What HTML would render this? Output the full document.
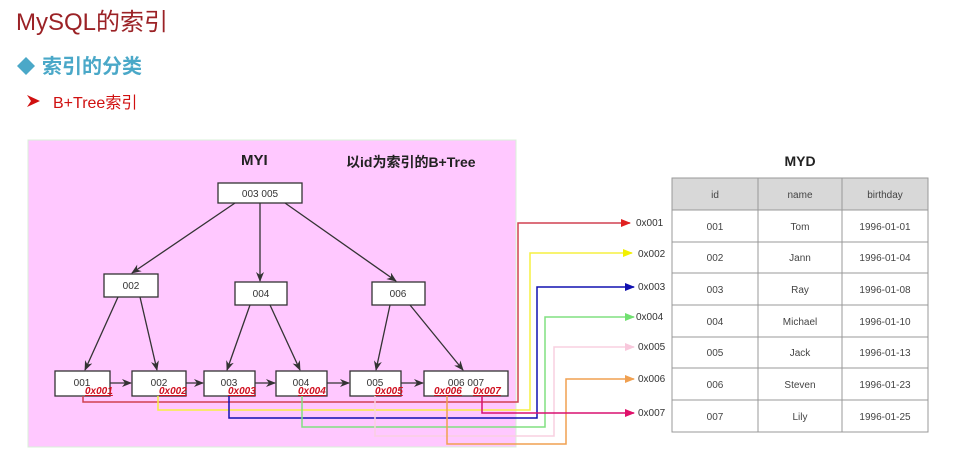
<!DOCTYPE html>
<html><head><meta charset="utf-8"><style>
body{margin:0;background:#fff;width:965px;height:465px;overflow:hidden}
svg text{font-family:"Liberation Sans","Noto Sans CJK SC",sans-serif}
</style></head><body>
<svg width="965" height="465" xmlns="http://www.w3.org/2000/svg">
<defs>
<marker id="ak" markerWidth="10" markerHeight="8" refX="9" refY="4" orient="auto" markerUnits="userSpaceOnUse"><path d="M0,0L10,4L0,8L3,4z" fill="#333"/></marker>
<marker id="ar" markerWidth="10" markerHeight="8" refX="9" refY="4" orient="auto" markerUnits="userSpaceOnUse"><path d="M0,0L10,4L0,8z" fill="#e02020"/></marker>
<marker id="ay" markerWidth="10" markerHeight="8" refX="9" refY="4" orient="auto" markerUnits="userSpaceOnUse"><path d="M0,0L10,4L0,8z" fill="#f2f000"/></marker>
<marker id="ab" markerWidth="10" markerHeight="8" refX="9" refY="4" orient="auto" markerUnits="userSpaceOnUse"><path d="M0,0L10,4L0,8z" fill="#1010b0"/></marker>
<marker id="ag" markerWidth="10" markerHeight="8" refX="9" refY="4" orient="auto" markerUnits="userSpaceOnUse"><path d="M0,0L10,4L0,8z" fill="#70e070"/></marker>
<marker id="ap" markerWidth="10" markerHeight="8" refX="9" refY="4" orient="auto" markerUnits="userSpaceOnUse"><path d="M0,0L10,4L0,8z" fill="#f8c8dc"/></marker>
<marker id="ao" markerWidth="10" markerHeight="8" refX="9" refY="4" orient="auto" markerUnits="userSpaceOnUse"><path d="M0,0L10,4L0,8z" fill="#f0a050"/></marker>
<marker id="am" markerWidth="10" markerHeight="8" refX="9" refY="4" orient="auto" markerUnits="userSpaceOnUse"><path d="M0,0L10,4L0,8z" fill="#e0106a"/></marker>
</defs>
<text x="16" y="30" font-size="24" fill="#9b2226">MySQL的索引</text>
<path d="M26,57L35,66L26,75L17,66z" fill="#4aa8c8"/>
<text x="42" y="73" font-size="20" font-weight="bold" fill="#4aa8c8">索引的分类</text>
<path d="M27,95L40,101L27,107L31,101z" fill="#d01010"/>
<text x="53" y="108" font-size="16" fill="#d01010">B+Tree索引</text>

<rect x="28" y="140" width="488" height="307" fill="#ffc8ff" stroke="#d8f0d8"/>
<text x="241" y="165" font-size="15" font-weight="bold" fill="#222">MYI</text>
<text x="346" y="167" font-size="14" font-weight="bold" fill="#222">以id为索引的B+Tree</text>

<g stroke="#333" stroke-width="1.3" marker-end="url(#ak)" fill="none">
<line x1="235" y1="203" x2="132" y2="273"/>
<line x1="260" y1="203" x2="260" y2="281"/>
<line x1="285" y1="203" x2="396" y2="281"/>
<line x1="118" y1="297" x2="85" y2="370"/>
<line x1="140" y1="297" x2="157" y2="370"/>
<line x1="250" y1="305" x2="227" y2="370"/>
<line x1="270" y1="305" x2="300" y2="370"/>
<line x1="390" y1="305" x2="376" y2="370"/>
<line x1="410" y1="305" x2="463" y2="370"/>
<line x1="110" y1="383" x2="131" y2="383"/>
<line x1="186" y1="383" x2="203" y2="383"/>
<line x1="255" y1="383" x2="275" y2="383"/>
<line x1="327" y1="383" x2="349" y2="383"/>
<line x1="401" y1="383" x2="423" y2="383"/>
</g>
<g fill="#fff" stroke="#333" stroke-width="1.3">
<rect x="218" y="183" width="84" height="20"/>
<rect x="104" y="274" width="54" height="23"/>
<rect x="235" y="282" width="52" height="23"/>
<rect x="372" y="282" width="53" height="23"/>
<rect x="55" y="371" width="55" height="25"/>
<rect x="132" y="371" width="54" height="25"/>
<rect x="204" y="371" width="51" height="25"/>
<rect x="276" y="371" width="51" height="25"/>
<rect x="350" y="371" width="51" height="25"/>
<rect x="424" y="371" width="84" height="25"/>
</g>
<g font-size="10" fill="#333" text-anchor="middle">
<text x="260" y="197">003  005</text>
<text x="131" y="289">002</text>
<text x="261" y="297">004</text>
<text x="398" y="297">006</text>
<text x="82" y="386">001</text>
<text x="159" y="386">002</text>
<text x="229" y="386">003</text>
<text x="301" y="386">004</text>
<text x="375" y="386">005</text>
<text x="466" y="386">006  007</text>
</g>
<g font-size="10" font-weight="bold" font-style="italic" fill="#d01020" text-decoration="underline">
<text x="85" y="394">0x001</text>
<text x="159" y="394">0x002</text>
<text x="228" y="394">0x003</text>
<text x="298" y="394">0x004</text>
<text x="375" y="394">0x005</text>
<text x="434" y="394">0x006</text>
<text x="473" y="394">0x007</text>
</g>
<g fill="none" stroke-width="1.5">
<path d="M83,396V402H518V223H630" stroke="#d04050" marker-end="url(#ar)"/>
<path d="M158,396V410H530V253H632" stroke="#f5f040" marker-end="url(#ay)"/>
<path d="M229,396V418H537V287H634" stroke="#1010b0" marker-end="url(#ab)"/>
<path d="M302,396V427H545V317H634" stroke="#80e080" marker-end="url(#ag)"/>
<path d="M375,396V436H554V347H634" stroke="#f8d0e0" marker-end="url(#ap)"/>
<path d="M447,396V444H566V379H634" stroke="#f0a050" marker-end="url(#ao)"/>
<path d="M482,396V413H634" stroke="#d81070" marker-end="url(#am)"/>
</g>
<g font-size="10" fill="#333">
<text x="636" y="226">0x001</text>
<text x="638" y="257">0x002</text>
<text x="638" y="290">0x003</text>
<text x="636" y="320">0x004</text>
<text x="638" y="350">0x005</text>
<text x="638" y="382">0x006</text>
<text x="638" y="416">0x007</text>
</g>

<text x="800" y="166" font-size="14" font-weight="bold" fill="#222" text-anchor="middle">MYD</text>
<rect x="672" y="178" width="256" height="32" fill="#d8d8d8"/>
<g stroke="#999" stroke-width="1" fill="none">
<rect x="672" y="178" width="256" height="254"/>
<line x1="758" y1="178" x2="758" y2="432"/>
<line x1="842" y1="178" x2="842" y2="432"/>
<line x1="672" y1="210" x2="928" y2="210"/>
<line x1="672" y1="242" x2="928" y2="242"/>
<line x1="672" y1="273" x2="928" y2="273"/>
<line x1="672" y1="305" x2="928" y2="305"/>
<line x1="672" y1="337" x2="928" y2="337"/>
<line x1="672" y1="368" x2="928" y2="368"/>
<line x1="672" y1="400" x2="928" y2="400"/>
</g>
<g font-size="10" fill="#444" text-anchor="middle">
<text x="715" y="198">id</text><text x="800" y="198">name</text><text x="885" y="198">birthday</text>
<text x="715" y="230">001</text><text x="800" y="230">Tom</text><text x="885" y="230">1996-01-01</text>
<text x="715" y="261">002</text><text x="800" y="261">Jann</text><text x="885" y="261">1996-01-04</text>
<text x="715" y="293">003</text><text x="800" y="293">Ray</text><text x="885" y="293">1996-01-08</text>
<text x="715" y="325">004</text><text x="800" y="325">Michael</text><text x="885" y="325">1996-01-10</text>
<text x="715" y="356">005</text><text x="800" y="356">Jack</text><text x="885" y="356">1996-01-13</text>
<text x="715" y="388">006</text><text x="800" y="388">Steven</text><text x="885" y="388">1996-01-23</text>
<text x="715" y="420">007</text><text x="800" y="420">Lily</text><text x="885" y="420">1996-01-25</text>
</g>
</svg>
</body></html>
